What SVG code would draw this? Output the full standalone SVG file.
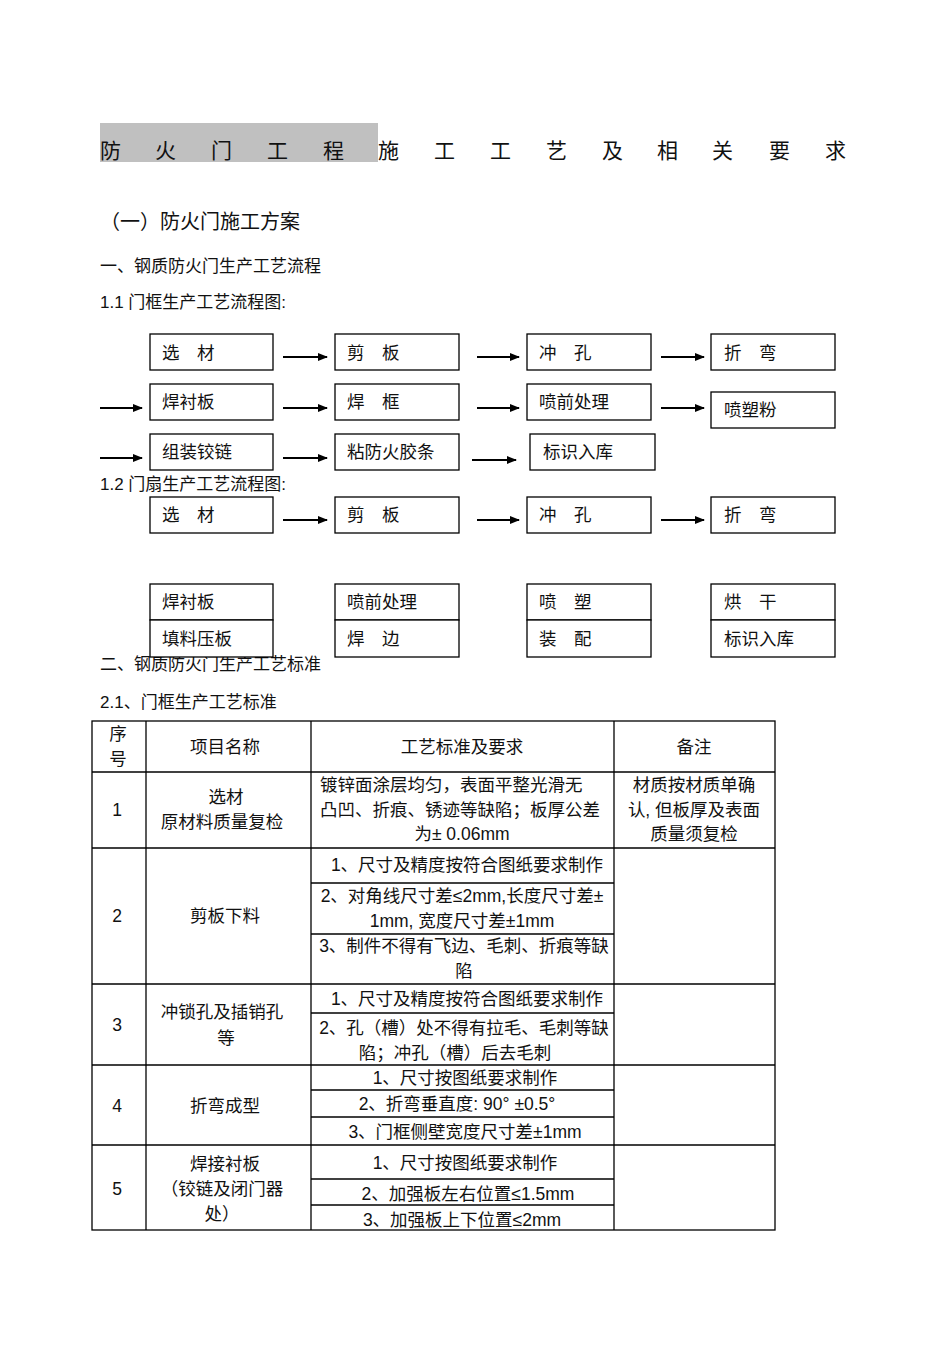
<svg xmlns="http://www.w3.org/2000/svg" width="950" height="1345" viewBox="0 0 950 1345">
<defs>
<marker id="ah" viewBox="0 0 10 10" refX="9" refY="5" markerWidth="5" markerHeight="5" orient="auto" markerUnits="strokeWidth"><path d="M0,1 L10,5 L0,9 z" fill="#000"/></marker>
<style>
text{font-family:"Liberation Sans","Noto Sans CJK SC",sans-serif;fill:#111;font-size:17.5px}
.t{font-size:21px}
.h{font-size:20px}
.s{font-size:17px}
.c{text-anchor:middle}
.box{fill:#fff;stroke:#000;stroke-width:1.3}
.arr{stroke:#000;stroke-width:2;fill:none;marker-end:url(#ah)}
.tl{stroke:#000;stroke-width:1.3;fill:none}
</style>
</defs>
<rect width="950" height="1345" fill="#fff"/>
<g id="title">
<rect x="100" y="123" width="278" height="39" fill="#c0c0c0"/>
<text class="t" x="100" y="158">防</text>
<text class="t" x="155" y="158">火</text>
<text class="t" x="211" y="158">门</text>
<text class="t" x="267" y="158">工</text>
<text class="t" x="323" y="158">程</text>
<text class="t" x="378" y="158">施</text>
<text class="t" x="434" y="158">工</text>
<text class="t" x="490" y="158">工</text>
<text class="t" x="546" y="158">艺</text>
<text class="t" x="602" y="158">及</text>
<text class="t" x="657" y="158">相</text>
<text class="t" x="712" y="158">关</text>
<text class="t" x="769" y="158">要</text>
<text class="t" x="825" y="158">求</text>
</g>
<g id="headings">
<text class="h" x="100" y="229">（一）防火门施工方案</text>
<text class="s" x="100" y="272">一、钢质防火门生产工艺流程</text>
<text class="s" x="100" y="308">1.1  门框生产工艺流程图:</text>
<text class="s" x="100" y="490">1.2  门扇生产工艺流程图:</text>
<text class="s" x="100" y="670">二、钢质防火门生产工艺标准</text>
<text class="s" x="100" y="708">2.1、门框生产工艺标准</text>
</g>
<g id="flow1">
<g id="f1-xuancai"><rect class="box" x="150" y="334" width="123" height="36"/><text x="162" y="359">选　材</text></g>
<g id="f1-jianban"><rect class="box" x="335" y="334" width="124" height="36"/><text x="347" y="359">剪　板</text></g>
<g id="f1-chongkong"><rect class="box" x="527" y="334" width="124" height="36"/><text x="539" y="359">冲　孔</text></g>
<g id="f1-zhewan"><rect class="box" x="711" y="334" width="124" height="36"/><text x="724" y="359">折　弯</text></g>
<g id="f1-hanchenban"><rect class="box" x="150" y="384" width="123" height="36"/><text x="162" y="408">焊衬板</text></g>
<g id="f1-hankuang"><rect class="box" x="335" y="384" width="124" height="36"/><text x="347" y="408">焊　框</text></g>
<g id="f1-penqian"><rect class="box" x="527" y="384" width="124" height="36"/><text x="539" y="408">喷前处理</text></g>
<g id="f1-pensu"><rect class="box" x="711" y="392" width="124" height="36"/><text x="724" y="416">喷塑粉</text></g>
<g id="f1-zuzhuang"><rect class="box" x="150" y="434" width="123" height="36"/><text x="162" y="458">组装铰链</text></g>
<g id="f1-zhanfang"><rect class="box" x="335" y="434" width="124" height="36"/><text x="347" y="458">粘防火胶条</text></g>
<g id="f1-biaoshi"><rect class="box" x="530" y="434" width="125" height="36"/><text x="543" y="458">标识入库</text></g>
</g>
<g id="flow2">
<g id="f2-xuancai"><rect class="box" x="150" y="497" width="123" height="36"/><text x="162" y="521">选　材</text></g>
<g id="f2-jianban"><rect class="box" x="335" y="497" width="124" height="36"/><text x="347" y="521">剪　板</text></g>
<g id="f2-chongkong"><rect class="box" x="527" y="497" width="124" height="36"/><text x="539" y="521">冲　孔</text></g>
<g id="f2-zhewan"><rect class="box" x="711" y="497" width="124" height="36"/><text x="724" y="521">折　弯</text></g>
<g id="f2-hanchenban"><rect class="box" x="150" y="584" width="123" height="36"/><text x="162" y="608">焊衬板</text></g>
<g id="f2-tianliao"><rect class="box" x="150" y="620" width="123" height="37"/><text x="162" y="645">填料压板</text></g>
<g id="f2-penqian"><rect class="box" x="335" y="584" width="124" height="36"/><text x="347" y="608">喷前处理</text></g>
<g id="f2-hanbian"><rect class="box" x="335" y="620" width="124" height="37"/><text x="347" y="645">焊　边</text></g>
<g id="f2-pensu"><rect class="box" x="527" y="584" width="124" height="36"/><text x="539" y="608">喷　塑</text></g>
<g id="f2-zhuangpei"><rect class="box" x="527" y="620" width="124" height="37"/><text x="539" y="645">装　配</text></g>
<g id="f2-honggan"><rect class="box" x="711" y="584" width="124" height="36"/><text x="724" y="608">烘　干</text></g>
<g id="f2-biaoshi"><rect class="box" x="711" y="620" width="124" height="37"/><text x="724" y="645">标识入库</text></g>
</g>
<g id="connectors">
<line class="arr" x1="283" y1="357" x2="327" y2="357"/>
<line class="arr" x1="477" y1="357" x2="519" y2="357"/>
<line class="arr" x1="661" y1="357" x2="704" y2="357"/>
<line class="arr" x1="100" y1="408" x2="142" y2="408"/>
<line class="arr" x1="283" y1="408" x2="327" y2="408"/>
<line class="arr" x1="477" y1="408" x2="519" y2="408"/>
<line class="arr" x1="661" y1="408" x2="704" y2="408"/>
<line class="arr" x1="100" y1="458" x2="142" y2="458"/>
<line class="arr" x1="283" y1="458" x2="327" y2="458"/>
<line class="arr" x1="472" y1="460" x2="516" y2="460"/>
<line class="arr" x1="283" y1="520" x2="327" y2="520"/>
<line class="arr" x1="477" y1="520" x2="519" y2="520"/>
<line class="arr" x1="661" y1="520" x2="704" y2="520"/>
</g>
<g id="table">
<rect class="tl" x="92" y="721" width="683" height="509"/>
<line class="tl" x1="146" y1="721" x2="146" y2="1230"/>
<line class="tl" x1="311" y1="721" x2="311" y2="1230"/>
<line class="tl" x1="614" y1="721" x2="614" y2="1230"/>
<line class="tl" x1="92" y1="772" x2="775" y2="772"/>
<line class="tl" x1="92" y1="848" x2="775" y2="848"/>
<line class="tl" x1="92" y1="984" x2="775" y2="984"/>
<line class="tl" x1="92" y1="1065" x2="775" y2="1065"/>
<line class="tl" x1="92" y1="1145" x2="775" y2="1145"/>
<line class="tl" x1="311" y1="883" x2="614" y2="883"/>
<line class="tl" x1="311" y1="934" x2="614" y2="934"/>
<line class="tl" x1="311" y1="1013" x2="614" y2="1013"/>
<line class="tl" x1="311" y1="1090" x2="614" y2="1090"/>
<line class="tl" x1="311" y1="1117" x2="614" y2="1117"/>
<line class="tl" x1="311" y1="1179" x2="614" y2="1179"/>
<line class="tl" x1="311" y1="1205" x2="614" y2="1205"/>
<g id="hdr">
<text class="c" x="118" y="740">序</text>
<text class="c" x="118" y="765">号</text>
<text class="c" x="225" y="753">项目名称</text>
<text class="c" x="462" y="753">工艺标准及要求</text>
<text class="c" x="694" y="753">备注</text>
</g>
<g id="r1">
<text class="c" x="117" y="816">1</text>
<text class="c" x="226" y="803">选材</text>
<text class="c" x="222" y="828">原材料质量复检</text>
<text x="320" y="791">镀锌面涂层均匀，表面平整光滑无</text>
<text x="320" y="816">凸凹、折痕、锈迹等缺陷；板厚公差</text>
<text class="c" x="462" y="840">为± 0.06mm</text>
<text class="c" x="694" y="791">材质按材质单确</text>
<text class="c" x="694" y="816">认, 但板厚及表面</text>
<text class="c" x="694" y="840">质量须复检</text>
</g>
<g id="r2">
<text class="c" x="117" y="922">2</text>
<text class="c" x="225" y="922">剪板下料</text>
<text class="c" x="467" y="871">1、尺寸及精度按符合图纸要求制作</text>
<text class="c" x="462" y="902">2、对角线尺寸差≤2mm,长度尺寸差±</text>
<text class="c" x="462" y="927">1mm, 宽度尺寸差±1mm</text>
<text class="c" x="464" y="952">3、制件不得有飞边、毛刺、折痕等缺</text>
<text class="c" x="464" y="977">陷</text>
</g>
<g id="r3">
<text class="c" x="117" y="1031">3</text>
<text class="c" x="222" y="1018">冲锁孔及插销孔</text>
<text class="c" x="226" y="1044">等</text>
<text class="c" x="467" y="1005">1、尺寸及精度按符合图纸要求制作</text>
<text class="c" x="464" y="1034">2、孔（槽）处不得有拉毛、毛刺等缺</text>
<text class="c" x="455" y="1059">陷；冲孔（槽）后去毛刺</text>
</g>
<g id="r4">
<text class="c" x="117" y="1112">4</text>
<text class="c" x="225" y="1112">折弯成型</text>
<text class="c" x="465" y="1084">1、尺寸按图纸要求制作</text>
<text class="c" x="457" y="1110">2、折弯垂直度: 90°  ±0.5°</text>
<text class="c" x="465" y="1138">3、门框侧壁宽度尺寸差±1mm</text>
</g>
<g id="r5">
<text class="c" x="117" y="1195">5</text>
<text class="c" x="225" y="1170">焊接衬板</text>
<text class="c" x="222" y="1195">（铰链及闭门器</text>
<text class="c" x="222" y="1220">处）</text>
<text class="c" x="465" y="1169">1、尺寸按图纸要求制作</text>
<text class="c" x="468" y="1200">2、加强板左右位置≤1.5mm</text>
<text class="c" x="462" y="1226">3、加强板上下位置≤2mm</text>
</g>
</g>
</svg>
